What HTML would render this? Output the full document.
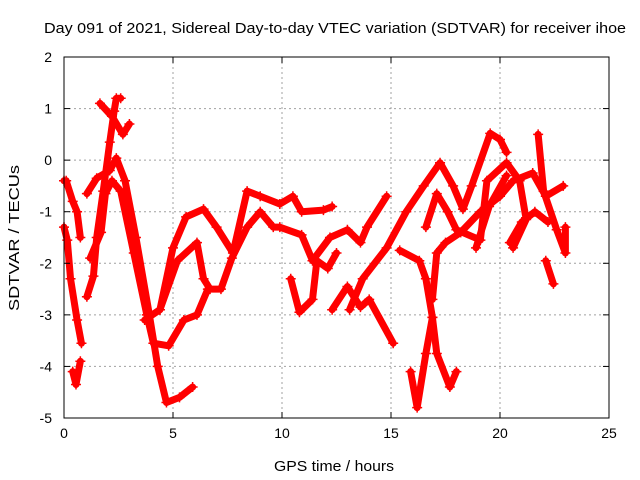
<!DOCTYPE html>
<html><head><meta charset="utf-8"><style>
html,body{margin:0;padding:0;background:#fff}
svg{display:block;font-family:"Liberation Sans",sans-serif}
</style></head><body>
<svg id="chart" width="640" height="480">
<text x="335" y="33" font-size="15" text-anchor="middle" textLength="582" lengthAdjust="spacingAndGlyphs">Day 091 of 2021, Sidereal Day-to-day VTEC variation (SDTVAR) for receiver ihoe</text>
<text x="334" y="471" font-size="15" text-anchor="middle" textLength="120" lengthAdjust="spacingAndGlyphs">GPS time / hours</text>
<text transform="translate(19,238) rotate(-90)" font-size="15" text-anchor="middle" textLength="146" lengthAdjust="spacingAndGlyphs">SDTVAR / TECUs</text>
<g id="grid"></g>
<g id="series"></g>
<rect x="64" y="57" width="545" height="361" fill="none" stroke="#000" stroke-width="1"/>
<g id="ticks"></g>
</svg>
<script>
const xTicks=[0,5,10,15,20,25];
const yTicks=[2,1,0,-1,-2,-3,-4,-5];
const traceA=[[0.0,-0.4],[0.1,-0.4],[0.4,-0.8],[0.6,-1.0],[0.75,-1.5]];
const traceA2=[[0.0,-1.3],[0.15,-1.55],[0.3,-2.3],[0.6,-3.1],[0.8,-3.55]];
const traceA3=[[0.4,-4.1],[0.55,-4.35],[0.75,-3.9]];
const traceB=[[1.05,-2.65],[1.35,-2.25],[1.5,-1.5],[1.8,-0.6],[2.1,0.35],[2.3,0.95],[2.4,1.2],[2.6,1.2]];
const traceB2=[[1.65,1.1],[2.2,0.85],[2.7,0.5],[3.0,0.7]];
const traceC=[[1.05,-0.65],[1.5,-0.35],[2.1,-0.2],[2.4,0.04],[2.8,-0.4],[3.3,-1.5],[3.9,-2.96],[4.3,-4.0],[4.7,-4.7],[5.3,-4.6],[5.9,-4.4]];
const traceC2=[[1.2,-1.9],[1.7,-1.4],[1.9,-0.65],[2.2,-0.4],[2.6,-0.6],[3.2,-1.8],[3.8,-3.0],[4.1,-3.55],[4.8,-3.6],[5.5,-3.1],[6.1,-3.0],[6.6,-2.5],[7.2,-2.5],[7.7,-1.9],[8.4,-1.3],[9.0,-1.0],[9.6,-1.3],[9.9,-1.3],[10.9,-1.45],[11.4,-1.95],[12.2,-1.5],[13.0,-1.35],[13.6,-1.6],[13.9,-1.3],[14.8,-0.7]];
const traceD=[[3.7,-3.1],[4.4,-2.9],[5.0,-1.7],[5.6,-1.1],[6.4,-0.95],[7.0,-1.3],[7.75,-1.8],[8.4,-0.6],[9.0,-0.7],[9.9,-0.85],[10.5,-0.7],[10.9,-1.0],[11.9,-0.97],[12.3,-0.9]];
const traceF=[[4.4,-2.9],[5.2,-1.95],[6.1,-1.6],[6.4,-2.3],[6.7,-2.5]];
const traceG=[[10.4,-2.3],[10.8,-2.95],[11.4,-2.7],[11.6,-1.95],[12.1,-2.1],[12.5,-1.8]];
const traceH=[[12.3,-2.9],[13.0,-2.45],[13.6,-2.85],[14.0,-2.7],[15.1,-3.55]];
const traceI=[[13.1,-2.9],[13.7,-2.3],[14.8,-1.7],[15.7,-1.0],[16.5,-0.5],[17.25,-0.05],[17.85,-0.5],[18.3,-0.95],[18.7,-0.5],[19.55,0.52],[20.0,0.4],[20.3,0.15]];
const traceJ=[[15.4,-1.75],[16.3,-1.95],[16.6,-2.3],[16.9,-3.05],[16.6,-3.75],[16.2,-4.8],[15.9,-4.1]];
const traceK=[[16.9,-3.05],[17.1,-3.75],[17.7,-4.4],[18.0,-4.1]];
const traceL=[[16.9,-2.7],[17.1,-1.8],[17.5,-1.6],[18.2,-1.4],[19.1,-1.0],[20.0,-0.7],[20.6,-0.4],[21.5,-0.25],[22.1,-0.7],[22.9,-0.5]];
const traceM=[[16.6,-1.3],[17.1,-0.65],[17.6,-1.0],[18.0,-1.35],[19.1,-1.55],[19.4,-0.4],[20.3,-0.05],[20.9,-0.4],[21.2,-1.15],[20.6,-1.7]];
const traceN=[[21.75,0.5],[22.0,-0.6],[22.6,-1.35],[23.0,-1.8],[23.0,-1.3]];
const traceO=[[22.1,-1.95],[22.45,-2.4]];
const traceP=[[20.45,-1.6],[21.0,-1.2],[21.6,-1.0],[22.2,-1.2]];
const traceQ=[[18.9,-1.7],[19.5,-0.9],[20.3,-0.3]];
const traces=[traceA,traceA2,traceA3,traceB,traceB2,traceC,traceC2,traceD,traceF,traceG,traceH,traceI,traceJ,traceK,traceL,traceM,traceN,traceO,traceP,traceQ];

const X0=64,X1=609,Y0=418,Y1=57;
const xs=t=>X0+(t-0)/(25-0)*(X1-X0);
const ys=v=>Y0-(v-(-5))/(2-(-5))*(Y0-Y1);
const NS='http://www.w3.org/2000/svg';
const grid=document.getElementById('grid'),ticks=document.getElementById('ticks'),ser=document.getElementById('series');
function mk(tag,attrs,parent){const e=document.createElementNS(NS,tag);for(const k in attrs)e.setAttribute(k,attrs[k]);parent.appendChild(e);return e;}
xTicks.forEach(t=>{
  const x=xs(t);
  if(t>0&&t<25){const l=mk('line',{x1:x,x2:x,y1:Y1,y2:Y0,stroke:'#a0a0a0','stroke-dasharray':'2,3'},grid);
  
  }
  mk('line',{x1:x,x2:x,y1:Y0,y2:Y0-6,stroke:'#000'},ticks);
  mk('line',{x1:x,x2:x,y1:Y1,y2:Y1+6,stroke:'#000'},ticks);
  const tx=mk('text',{x:x,y:Y0+20,'font-size':14,'text-anchor':'middle'},ticks);
  tx.textContent=t;
  
  
});
yTicks.forEach(v=>{
  const y=ys(v);
  if(v>-5&&v<2){const l=mk('line',{x1:X0,x2:X1,y1:y,y2:y,stroke:'#a0a0a0','stroke-dasharray':'2,3'},grid);
  
  }
  mk('line',{x1:X0,x2:X0+6,y1:y,y2:y,stroke:'#000'},ticks);
  mk('line',{x1:X1,x2:X1-6,y1:y,y2:y,stroke:'#000'},ticks);
  const tx=mk('text',{x:52,y:y+5,'font-size':14,'text-anchor':'end'},ticks);
  tx.textContent=v;
  
  
});
traces.forEach((tr,i)=>{
  const pts=tr.map(p=>xs(p[0])+','+ys(p[1])).join(' ');
  const pl=mk('polyline',{points:pts,fill:'none',stroke:'#ff0000','stroke-width':7,'stroke-linejoin':'round','stroke-linecap':'round'},ser);
  
  
  tr.forEach(p=>{
    const x=xs(p[0]),y=ys(p[1]);
    const m=mk('path',{d:`M${x-5},${y}H${x+5}M${x},${y-5}V${y+5}`,stroke:'#ff0000','stroke-width':1.5},ser);
    
    
  });
});
</script>
</body></html>
